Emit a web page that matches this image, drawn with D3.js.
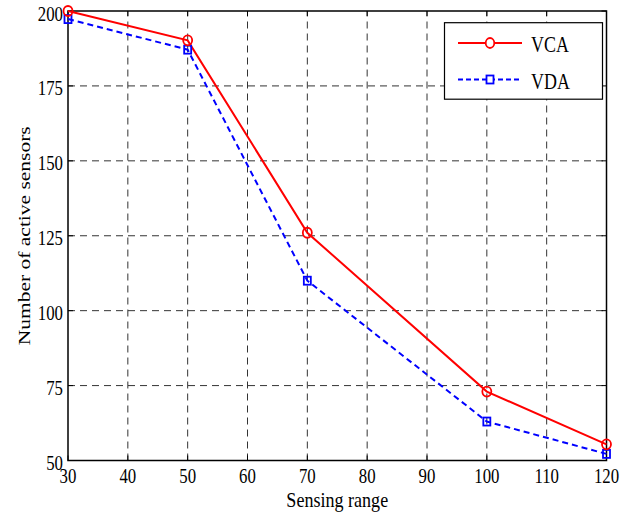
<!DOCTYPE html>
<html><head><meta charset="utf-8">
<script src="https://cdn.jsdelivr.net/npm/d3@7"></script>
<style>body{margin:0;background:#fff}svg{display:block}text{font-family:"Liberation Serif","Times New Roman",serif;fill:#000}</style>
</head><body><svg id="c" width="630" height="516"></svg>
<script>
const xValues = [30, 50, 70, 100, 120];
const vcaValues = [200, 190.2, 126, 73, 55.4];
const vdaValues = [197.3, 187.1, 110, 63, 52.2];
const xTicks = [30, 40, 50, 60, 70, 80, 90, 100, 110, 120];
const yTicks = [50, 75, 100, 125, 150, 175, 200];
const seriesNames = ["VCA", "VDA"];
const xTitle = "Sensing range";
const yTitle = "Number of active sensors";

const svg = d3.select("#c");
const L = 68, R = 606.5, T = 11, B = 460.5;
const SX = 0.8;
const x = d3.scaleLinear().domain([30, 120]).range([L, R]);
const y = d3.scaleLinear().domain([50, 200]).range([B, T]);

// grid
const grid = svg.append("g").attr("stroke", "#333").attr("stroke-width", 1).attr("stroke-dasharray", "7,5");
xTicks.slice(1, -1).forEach(t => grid.append("line").attr("x1", x(t)).attr("x2", x(t)).attr("y1", B).attr("y2", T));
yTicks.slice(1, -1).forEach(t => grid.append("line").attr("y1", y(t)).attr("y2", y(t)).attr("x1", L).attr("x2", R));

// ticks (inward, all sides)
const tk = svg.append("g").attr("stroke", "#000").attr("stroke-width", 1);
xTicks.forEach(t => {
  tk.append("line").attr("x1", x(t)).attr("x2", x(t)).attr("y1", B).attr("y2", B - 5);
  tk.append("line").attr("x1", x(t)).attr("x2", x(t)).attr("y1", T).attr("y2", T + 5);
});
yTicks.forEach(t => {
  tk.append("line").attr("y1", y(t)).attr("y2", y(t)).attr("x1", L).attr("x2", L + 5);
  tk.append("line").attr("y1", y(t)).attr("y2", y(t)).attr("x1", R).attr("x2", R - 5);
});

// frame
svg.append("rect").attr("x", L).attr("y", T).attr("width", R - L).attr("height", B - T)
  .attr("fill", "none").attr("stroke", "#000").attr("stroke-width", 1.5);

// tick labels
xTicks.forEach(t => svg.append("text").attr("transform", `translate(${x(t)},${483}) scale(${SX},1)`)
  .attr("text-anchor", "middle").attr("font-size", 21).text(t));
yTicks.forEach(t => svg.append("text").attr("transform", `translate(${63},${y(t) + 9.5}) scale(${SX},1)`)
  .attr("text-anchor", "end").attr("font-size", 21).text(t));

// axis titles
svg.append("text").attr("transform", `translate(${(L + R) / 2},${507}) scale(0.86,1)`)
  .attr("text-anchor", "middle").attr("font-size", 21).text(xTitle);
svg.append("text").attr("transform", `translate(${30},${(T + B) / 2}) scale(0.8,1) rotate(-90)`)
  .attr("text-anchor", "middle").attr("font-size", 21.5).text(yTitle);

// series
const line = d3.line().x(d => x(d[0])).y(d => y(d[1]));
const vca = xValues.map((v, i) => [v, vcaValues[i]]);
const vda = xValues.map((v, i) => [v, vdaValues[i]]);
svg.append("path").datum(vda).attr("d", line).attr("fill", "none").attr("stroke", "#0000ff").attr("stroke-width", 2).attr("stroke-dasharray", "6,4");
svg.append("path").datum(vca).attr("d", line).attr("fill", "none").attr("stroke", "#ff0000").attr("stroke-width", 2);
svg.selectAll(".sq").data(vda).enter().append("rect").attr("x", d => x(d[0]) - 3.5).attr("y", d => y(d[1]) - 4)
  .attr("width", 7).attr("height", 8).attr("fill", "none").attr("stroke", "#0000ff").attr("stroke-width", 1.8);
svg.selectAll(".ci").data(vca).enter().append("ellipse").attr("cx", d => x(d[0])).attr("cy", d => y(d[1]))
  .attr("rx", 4.5).attr("ry", 5).attr("fill", "none").attr("stroke", "#ff0000").attr("stroke-width", 1.8);

// legend
const lg = svg.append("g");
lg.append("rect").attr("x", 444.5).attr("y", 22.7).attr("width", 158).attr("height", 76.5)
  .attr("fill", "#fff").attr("stroke", "#000").attr("stroke-width", 1.2);
const ly = [43, 79.5];
const colors = ["#ff0000", "#0000ff"];
seriesNames.forEach((n, i) => {
  lg.append("line").attr("x1", 458).attr("x2", 522).attr("y1", ly[i]).attr("y2", ly[i])
    .attr("stroke", colors[i]).attr("stroke-width", 2).attr("stroke-dasharray", i ? "5,3" : null);
  if (i === 0) lg.append("ellipse").attr("cx", 490).attr("cy", ly[i]).attr("rx", 4.3).attr("ry", 5)
    .attr("fill", "#fff").attr("stroke", colors[i]).attr("stroke-width", 1.8);
  else lg.append("rect").attr("x", 486.5).attr("y", ly[i] - 4).attr("width", 7).attr("height", 8)
    .attr("fill", "#fff").attr("stroke", colors[i]).attr("stroke-width", 1.8);
  lg.append("text").attr("transform", `translate(531,${ly[i] + 9}) scale(0.78,1)`)
    .attr("font-size", 23).text(n);
});
</script></body></html>
